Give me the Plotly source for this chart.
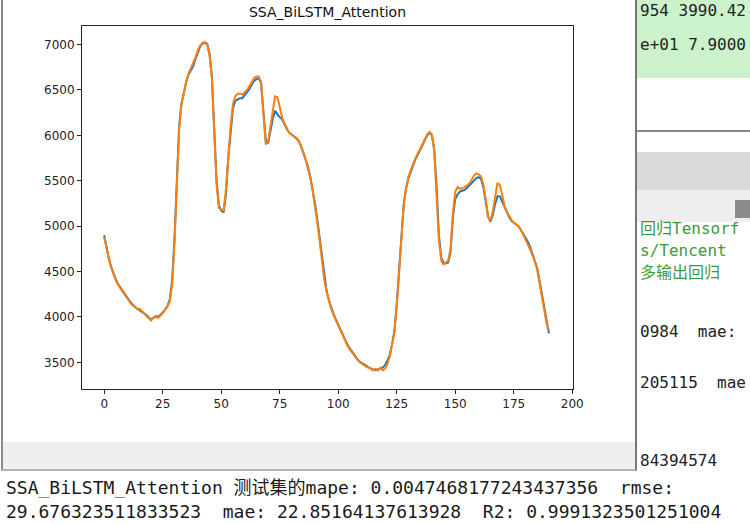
import plotly.graph_objects as go

# ---------------- data ----------------
true_vals = [
    4900, 4760, 4640, 4550, 4470, 4410, 4360, 4320, 4280, 4240,
    4200, 4170, 4140, 4110, 4090, 4075, 4060, 4040, 4020, 3990,
    3970, 3990, 4010, 4000, 4020, 4050, 4080, 4120, 4190, 4400,
    4850, 5550, 6100, 6350, 6480, 6580, 6670, 6720, 6760, 6840,
    6920, 6980, 7010, 7020, 7010, 6900, 6650, 6100, 5500, 5230,
    5170, 5150, 5350, 5750, 6050, 6300, 6380, 6400, 6410, 6410,
    6440, 6480, 6510, 6560, 6600, 6620, 6630, 6580, 6300, 5950,
    5910, 6050, 6180, 6270, 6230, 6200, 6180, 6120, 6070, 6030,
    6005, 5990, 5970, 5940, 5890, 5820, 5740, 5660, 5550, 5420,
    5260, 5080, 4880, 4650, 4430, 4290, 4180, 4100, 4030, 3970,
    3910, 3850, 3790, 3740, 3690, 3650, 3610, 3570, 3540, 3510,
    3490, 3475, 3460, 3445, 3430, 3420, 3415, 3420, 3430, 3440,
    3470, 3520, 3580, 3700, 3850, 4150, 4550, 4950, 5250, 5420,
    5530, 5600, 5680, 5740, 5790, 5840, 5890, 5950, 6000, 6030,
    6000, 5850, 5450, 4900, 4650, 4600, 4590, 4600, 4720, 5100,
    5300, 5350, 5380, 5390, 5400, 5420, 5450, 5480, 5510, 5530,
    5540, 5520, 5430, 5280, 5110, 5050, 5120, 5240, 5330, 5330,
    5270, 5210, 5150, 5100, 5060, 5040, 5020, 5000, 4960, 4920,
    4880, 4830, 4770, 4700, 4630, 4540, 4400, 4250, 4100, 3940,
    3820,
]
pred_vals = [
    4880, 4740, 4630, 4540, 4460, 4400, 4350, 4310, 4270, 4230,
    4190, 4160, 4130, 4105, 4090, 4090, 4070, 4040, 4010, 3980,
    3960, 3990, 4000, 3990, 4010, 4040, 4080, 4110, 4170, 4350,
    4800, 5500, 6070, 6340, 6480, 6590, 6680, 6740, 6780, 6860,
    6940, 6990, 7020, 7030, 7000, 6880, 6620, 6050, 5460, 5200,
    5180, 5170, 5400, 5800, 6100, 6350, 6430, 6460, 6460, 6450,
    6470, 6500, 6540, 6590, 6630, 6650, 6650, 6590, 6260, 5900,
    5930, 6100, 6300, 6430, 6420, 6300, 6200, 6130, 6070, 6030,
    6010, 5995, 5975, 5945, 5890, 5820, 5740, 5650, 5540, 5400,
    5240, 5050, 4850, 4620, 4410, 4280, 4170, 4090, 4020, 3960,
    3900, 3840, 3780, 3730, 3680, 3640, 3600, 3565, 3535, 3505,
    3485, 3470, 3450, 3440, 3420, 3410, 3430, 3410, 3440, 3410,
    3430, 3480, 3560, 3680, 3830, 4120, 4520, 4930, 5240, 5420,
    5540, 5620, 5690, 5750, 5800, 5850, 5900, 5960, 6010, 6040,
    6010, 5830, 5400, 4850, 4620, 4580, 4600, 4620, 4760, 5150,
    5380, 5430, 5410, 5420, 5430, 5450, 5470, 5510, 5560, 5580,
    5570, 5550, 5460, 5300, 5100, 5060, 5160, 5320, 5470, 5460,
    5330, 5230, 5160, 5110, 5070, 5040, 5020, 5000, 4960, 4910,
    4860, 4800, 4740, 4680, 4610, 4520, 4380, 4230, 4080, 3930,
    3850,
]
x_idx = list(range(len(true_vals)))
x_ticks = [0, 25, 50, 75, 100, 125, 150, 175, 200]
y_ticks = [3500, 4000, 4500, 5000, 5500, 6000, 6500, 7000]
title_text = "SSA_BiLSTM_Attention"
console_bottom = [
    "SSA_BiLSTM_Attention 测试集的mape: 0.0047468177243437356  rmse:",
    "29.676323511833523  mae: 22.85164137613928  R2: 0.9991323501251004",
]
console_right = [
    ("954 3990.42", 10, "#222"),
    ("e+01 7.9000", 45, "#222"),
    ("回归Tensorf", 228, "#3a9a3a"),
    ("s/Tencent", 251, "#3a9a3a"),
    ("多输出回归", 272, "#3a9a3a"),
    ("0984  mae:", 331, "#222"),
    ("205115  mae", 382, "#222"),
    ("84394574", 460, "#222"),
]

# ---------------- layout geometry (pixels) ----------------
W, H = 750, 524
L, R, T, B = 82, 573, 26, 389


def px(x):
    return (x - L) / (R - L)


def py(y):
    return (B - y) / (B - T)


fig = go.Figure()
fig.add_trace(go.Scatter(x=x_idx, y=true_vals, mode="lines",
                         line=dict(color="#1f77b4", width=2), showlegend=False))
fig.add_trace(go.Scatter(x=x_idx, y=pred_vals, mode="lines",
                         line=dict(color="#ff7f0e", width=2), showlegend=False))

shapes = []
# right console panel
shapes.append(dict(type="rect", xref="paper", yref="paper", x0=px(637), x1=px(750), y0=py(0), y1=py(78),
                   fillcolor="#ccf2cc", line=dict(width=0), layer="below"))
shapes.append(dict(type="line", xref="paper", yref="paper", x0=px(637), x1=px(750), y0=py(131), y1=py(131),
                   line=dict(color="#888888", width=2), layer="below"))
shapes.append(dict(type="rect", xref="paper", yref="paper", x0=px(637), x1=px(750), y0=py(152), y1=py(190),
                   fillcolor="#d9d9d9", line=dict(width=0), layer="below"))
shapes.append(dict(type="rect", xref="paper", yref="paper", x0=px(637), x1=px(750), y0=py(190), y1=py(222),
                   fillcolor="#eeeeee", line=dict(width=0), layer="below"))
shapes.append(dict(type="rect", xref="paper", yref="paper", x0=px(735), x1=px(750), y0=py(200), y1=py(218),
                   fillcolor="#8c8c8c", line=dict(width=0), layer="below"))
# window frame
shapes.append(dict(type="rect", xref="paper", yref="paper", x0=px(3), x1=px(635), y0=py(442), y1=py(469),
                   fillcolor="#efefef", line=dict(width=0), layer="below"))
shapes.append(dict(type="line", xref="paper", yref="paper", x0=px(2), x1=px(2), y0=py(0), y1=py(470),
                   line=dict(color="#8a8a8a", width=2), layer="below"))
shapes.append(dict(type="line", xref="paper", yref="paper", x0=px(636), x1=px(636), y0=py(0), y1=py(471),
                   line=dict(color="#777777", width=2), layer="below"))
shapes.append(dict(type="line", xref="paper", yref="paper", x0=px(1), x1=px(637), y0=py(470), y1=py(470),
                   line=dict(color="#9a9a9a", width=1.5), layer="below"))

annotations = []
for i, line in enumerate(console_bottom):
    annotations.append(dict(text=line, xref="paper", yref="paper", x=px(4), y=py(487 + 24 * i),
                            xanchor="left", yanchor="middle", showarrow=False,
                            font=dict(family="DejaVu Sans Mono, Noto Sans CJK SC", size=18, color="#1a1a1a")))
for text, yy, col in console_right:
    annotations.append(dict(text=text, xref="paper", yref="paper", x=px(638), y=py(yy),
                            xanchor="left", yanchor="middle", showarrow=False,
                            font=dict(family="DejaVu Sans Mono, Noto Sans CJK SC", size=16, color=col)))

fig.update_layout(
    width=W, height=H,
    margin=dict(l=L, r=W - R, t=T, b=H - B, pad=0),
    paper_bgcolor="white", plot_bgcolor="white",
    font=dict(family="DejaVu Sans", size=12, color="#222"),
    title=dict(text=title_text, x=0.5, xref="paper", y=1 - 12 / H, yref="container",
               xanchor="center", yanchor="middle", font=dict(size=14, color="#111")),
    xaxis=dict(range=[-9.5, 200.3], tickmode="array", tickvals=x_ticks, ticks="outside", ticklen=4,
               tickcolor="#222", showline=True, linecolor="#222", linewidth=1, mirror=True,
               showgrid=False, zeroline=False, tickfont=dict(size=12)),
    yaxis=dict(range=[3206, 7205], tickmode="array", tickvals=y_ticks, ticks="outside", ticklen=4,
               tickcolor="#222", showline=True, linecolor="#222", linewidth=1, mirror=True,
               showgrid=False, zeroline=False, tickfont=dict(size=12)),
    shapes=shapes, annotations=annotations,
)

fig.write_html("out.html")
